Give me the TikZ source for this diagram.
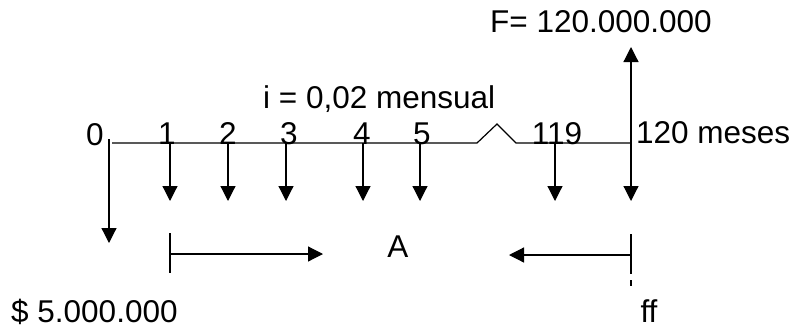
\documentclass[tikz,border=0pt]{standalone}
\usepackage{fontspec}
\setmainfont{Liberation Sans}
\usetikzlibrary{positioning,arrows.meta}

\begin{document}
\begin{tikzpicture}[x=1pt, y=-1pt,
    flow/.style={line width=1.2pt, -{Triangle[length=15pt,width=15pt]}},
    tick/.style={line width=1.2pt},
    lbl/.style={inner sep=0pt, anchor=base, font=\fontsize{31.5}{38}\selectfont},
]
    \useasboundingbox (0,0) rectangle (795,330);
    % eje de tiempo con corte
    \coordinate (t0) at (112,143);
    \coordinate (c1) at (477,143);
    \coordinate (c2) at (497,124);
    \coordinate (c3) at (516,143);
    \coordinate (t120) at (631,143);
    \draw[tick] (t0) -- (c1) -- (c2) -- (c3) -- (t120);
    % pagos mensuales A
    \foreach \n/\x/\lx in {1/170/167, 2/228/228, 3/286/289, 4/363/362, 5/420/422, 119/555/557} {
        \coordinate (t\n) at (\x,143);
        \coordinate (p\n) at (\x,201);
        \draw[flow] (t\n) -- (p\n);
        \node[lbl] (n\n) at (\lx,144) {\n};
    }
    % desembolso en 0
    \coordinate (s0) at (109,139);
    \coordinate (d0) at (109,243);
    \draw[flow] (s0) -- (d0);
    \node[lbl] (n0) at (95,145) {0};
    % periodo 120
    \coordinate (p120) at (631,201);
    \coordinate (f120) at (631,47);
    \draw[flow] (t120) -- (p120);
    \draw[flow] (t120) -- (f120);
    \node[lbl, anchor=base west] (meses) at (636,143) {120 meses};
    \node[lbl, anchor=base west] (tasa) at (263,108) {i = 0,02 mensual};
    \node[lbl, anchor=base west] (valorF) at (490,32) {F= 120.000.000};
    % flechas de la anualidad
    \coordinate (a1) at (170,233);
    \coordinate (a2) at (170,273);
    \coordinate (ai) at (170,254);
    \coordinate (ae) at (323,254);
    \draw[tick] (a1) -- (a2);
    \draw[flow] (ai) -- (ae);
    \coordinate (b1) at (631,234);
    \coordinate (b2) at (631,274);
    \coordinate (b3) at (631,280);
    \coordinate (b4) at (631,286);
    \coordinate (bi) at (631,255);
    \coordinate (be) at (509,255);
    \draw[tick] (b1) -- (b2);
    \draw[tick] (b3) -- (b4);
    \draw[flow] (bi) -- (be);
    \node[lbl] (anual) at (398,257) {A};
    \node[lbl, anchor=base west] (valorP) at (11,322) {\$ 5.000.000};
    \node[lbl] (ff) at (649,322) {ff};
\end{tikzpicture}
\end{document}
